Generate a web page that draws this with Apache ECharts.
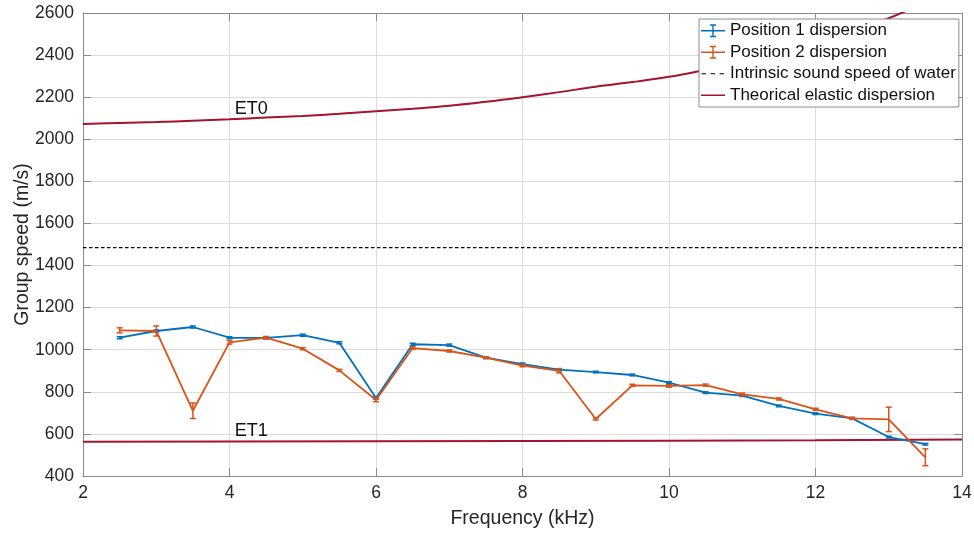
<!DOCTYPE html>
<html>
<head>
<meta charset="utf-8">
<script src="https://cdn.jsdelivr.net/npm/echarts@6/dist/echarts.min.js"></script>
<style>
html,body{margin:0;padding:0;background:#fff;}
#chart{width:974px;height:535px;}
</style>
</head>
<body>
<div id="chart"></div>
<script>
// ---- data ----
var freq = [2.5, 3, 3.5, 4, 4.5, 5, 5.5, 6, 6.5, 7, 7.5, 8, 8.5, 9, 9.5, 10, 10.5, 11, 11.5, 12, 12.5, 13, 13.5];
var pos1 = [1057, 1089, 1108, 1057, 1056, 1069, 1033, 771, 1026, 1022, 962, 932, 905, 894, 880, 844, 796, 782, 733, 696, 674, 585, 551];
var pos1Err = [5, 5, 5, 5, 5, 5, 5, 5, 5, 5, 4, 5, 5, 4, 4, 4, 4, 4, 4, 4, 4, 4, 4];
var pos2 = [1092, 1089, 710, 1035, 1057, 1005, 902, 761, 1008, 994, 962, 924, 900, 671, 831, 828, 832, 788, 766, 717, 674, 669, 489];
var pos2Err = [12, 24, 37, 8, 6, 5, 5, 8, 6, 5, 4, 5, 10, 5, 5, 6, 5, 6, 5, 5, 5, 58, 40];
var waterFreq = [2, 14];
var waterSpeed = [1485, 1485];
var et0Freq = [2, 2.5, 3, 3.5, 4, 4.5, 5, 5.5, 6, 6.5, 7, 7.5, 8, 8.5, 9, 9.5, 10, 10.5, 11, 11.5, 12, 12.5, 13, 13.5];
var et0 = [2073, 2077, 2082, 2088, 2095, 2103, 2111, 2121, 2133, 2145, 2159, 2178, 2200, 2224, 2250, 2272, 2297, 2330, 2365, 2407, 2450, 2508, 2575, 2650];
var et1Freq = [2, 4, 6, 8, 10, 12, 14];
var et1 = [563, 564, 565, 566, 568, 570, 574];
var xTicks = [2, 4, 6, 8, 10, 12, 14];
var yTicks = [400, 600, 800, 1000, 1200, 1400, 1600, 1800, 2000, 2200, 2400, 2600];
var names = ['Position 1 dispersion', 'Position 2 dispersion', 'Intrinsic sound speed of water', 'Theorical elastic dispersion'];
var curveLabels = ['ET0', 'ET1'];

// ---- styling ----
var FONT = 'Liberation Sans, Arial, Helvetica, sans-serif';
var BLUE = '#0072BD', ORANGE = '#D95319', RED = '#A2142F';
var AXIS = '#8a8a8a', GRID = '#dcdcdc', TXT = '#262626';

function pairs(xs, ys) { return xs.map(function (x, i) { return [x, ys[i]]; }); }
function errData(xs, ys, es) { return xs.map(function (x, i) { return [x, ys[i] - es[i], ys[i] + es[i]]; }); }
function errRender(color) {
  return function (params, api) {
    var x = api.value(0);
    var lo = api.coord([x, api.value(1)]);
    var hi = api.coord([x, api.value(2)]);
    var w = 3;
    var st = { stroke: color, lineWidth: 1.5, fill: null };
    return {
      type: 'group', children: [
        { type: 'line', shape: { x1: lo[0], y1: lo[1], x2: hi[0], y2: hi[1] }, style: st },
        { type: 'line', shape: { x1: lo[0] - w, y1: lo[1], x2: lo[0] + w, y2: lo[1] }, style: st },
        { type: 'line', shape: { x1: hi[0] - w, y1: hi[1], x2: hi[0] + w, y2: hi[1] }, style: st }
      ]
    };
  };
}

var iconErr = 'path://M0,0h0.01v0.01h-0.01z M0,6.3h24v1.4h-24z M11.3,0.5h1.4v13h-1.4z M9,0.5h6v1.4h-6z M9,12.1h6v1.4h-6z M23.99,13.99h0.01v0.01h-0.01z';
var iconDash = 'path://M0,0h0.01v0.01h-0.01z M0.5,6.4h4.5v1.2h-4.5z M9.5,6.4h4.5v1.2h-4.5z M18.5,6.4h4.5v1.2h-4.5z M23.99,13.99h0.01v0.01h-0.01z';
var iconLine = 'path://M0,0h0.01v0.01h-0.01z M0,6.2h24v1.6h-24z M23.99,13.99h0.01v0.01h-0.01z';

var baseX = {
  type: 'value', min: xTicks[0], max: xTicks[xTicks.length - 1], interval: 2,
  axisLine: { show: true, onZero: false, lineStyle: { color: AXIS, width: 1 } },
  axisTick: { show: true, inside: true, length: 8, lineStyle: { color: AXIS } }
};
var baseY = {
  type: 'value', min: yTicks[0], max: yTicks[yTicks.length - 1], interval: 200,
  axisLine: { show: true, onZero: false, lineStyle: { color: AXIS, width: 1 } },
  axisTick: { show: true, inside: true, length: 8, lineStyle: { color: AXIS } }
};

var chart = echarts.init(document.getElementById('chart'), null, { renderer: 'canvas' });
chart.setOption({
  animation: false,
  backgroundColor: '#fff',
  textStyle: { fontFamily: FONT },
  grid: { left: 83, right: 12, top: 13, bottom: 59, containLabel: false, outerBoundsMode: 'none' },
  xAxis: [
    Object.assign({}, baseX, {
      position: 'bottom',
      name: 'Frequency (kHz)', nameLocation: 'middle', nameGap: 33, nameMoveOverlap: false,
      nameTextStyle: { fontSize: 19.5, color: TXT, fontFamily: FONT },
      axisLabel: { fontSize: 17.5, color: TXT, margin: 8, fontFamily: FONT, formatter: function (v) { return String(v); } },
      splitLine: { show: true, lineStyle: { color: GRID, width: 1 } }
    }),
    Object.assign({}, baseX, {
      position: 'top', axisLabel: { show: false }, splitLine: { show: false }
    })
  ],
  yAxis: [
    Object.assign({}, baseY, {
      position: 'left',
      name: 'Group speed (m/s)', nameLocation: 'middle', nameGap: 50, nameRotate: 90, nameMoveOverlap: false,
      nameTextStyle: { fontSize: 19.5, color: TXT, fontFamily: FONT },
      axisLabel: { fontSize: 17.5, color: TXT, margin: 9, fontFamily: FONT, formatter: function (v) { return String(v); } },
      splitLine: { show: true, lineStyle: { color: GRID, width: 1 } }
    }),
    Object.assign({}, baseY, {
      position: 'right', axisLabel: { show: false }, splitLine: { show: false }
    })
  ],
  legend: {
    orient: 'vertical', left: 699, top: 19,
    padding: [1, 3, 1, 2],
    itemWidth: 24, itemHeight: 14, itemGap: 0,
    selectedMode: false,
    backgroundColor: '#fff', borderColor: '#8a8a8a', borderWidth: 1,
    textStyle: { fontSize: 17, lineHeight: 21.5, color: '#111', fontFamily: FONT },
    data: [
      { name: names[0], icon: iconErr, itemStyle: { color: BLUE } },
      { name: names[1], icon: iconErr, itemStyle: { color: ORANGE } },
      { name: names[2], icon: iconDash, itemStyle: { color: '#000' } },
      { name: names[3], icon: iconLine, itemStyle: { color: RED } }
    ]
  },
  series: [
    {
      name: names[3], type: 'line', data: pairs(et0Freq, et0), smooth: 0.4,
      showSymbol: false, symbol: 'none', clip: true,
      lineStyle: { color: RED, width: 2 }, itemStyle: { color: RED }, z: 2,
      markPoint: {
        symbol: 'circle', symbolSize: 0, silent: true,
        label: { show: true, position: [0, 0], align: 'left', verticalAlign: 'middle', fontSize: 18, color: '#111', fontFamily: FONT, formatter: curveLabels[0] },
        data: [{ coord: [4.07, 2146] }]
      }
    },
    {
      name: names[3], type: 'line', data: pairs(et1Freq, et1),
      showSymbol: false, symbol: 'none', clip: true,
      lineStyle: { color: RED, width: 2 }, itemStyle: { color: RED }, z: 2,
      markPoint: {
        symbol: 'circle', symbolSize: 0, silent: true,
        label: { show: true, position: [0, 0], align: 'left', verticalAlign: 'middle', fontSize: 18, color: '#111', fontFamily: FONT, formatter: curveLabels[1] },
        data: [{ coord: [4.07, 616] }]
      }
    },
    {
      name: names[2], type: 'line', data: pairs(waterFreq, waterSpeed),
      showSymbol: false, symbol: 'none',
      lineStyle: { color: '#000', width: 1.3, type: [3.5, 2.5] }, itemStyle: { color: '#000' }, z: 2
    },
    {
      name: names[0], type: 'line', data: pairs(freq, pos1),
      showSymbol: false, symbol: 'none',
      lineStyle: { color: BLUE, width: 1.8 }, itemStyle: { color: BLUE }, z: 3
    },
    {
      name: names[0], type: 'custom', data: errData(freq, pos1, pos1Err),
      renderItem: errRender(BLUE), encode: { x: 0, y: [1, 2] }, itemStyle: { color: BLUE }, z: 3
    },
    {
      name: names[1], type: 'line', data: pairs(freq, pos2),
      showSymbol: false, symbol: 'none',
      lineStyle: { color: ORANGE, width: 1.8 }, itemStyle: { color: ORANGE }, z: 4
    },
    {
      name: names[1], type: 'custom', data: errData(freq, pos2, pos2Err),
      renderItem: errRender(ORANGE), encode: { x: 0, y: [1, 2] }, itemStyle: { color: ORANGE }, z: 4
    }
  ]
});
</script>
</body>
</html>
